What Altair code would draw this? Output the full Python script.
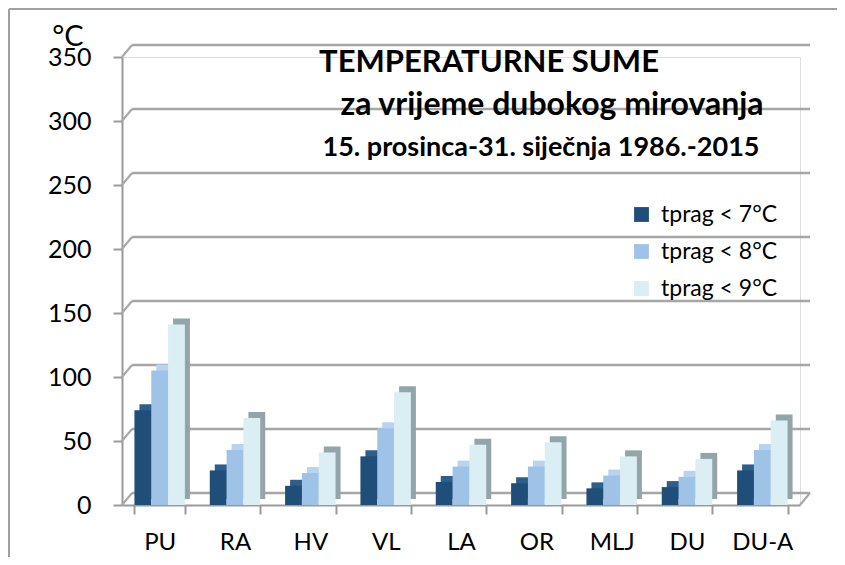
import altair as alt
import pandas as pd

stations = ["PU", "RA", "HV", "VL", "LA", "OR", "MLJ", "DU", "DU-A"]
t7 = [74, 27, 15, 38, 18, 17, 13, 14, 27]
t8 = [105, 43, 25, 60, 30, 30, 23, 22, 43]
t9 = [141, 68, 41, 88, 47, 49, 38, 36, 66]
series = ["tprag < 7°C", "tprag < 8°C", "tprag < 9°C"]
colors = ["#1f4e79", "#9fc3e7", "#dbeef3"]
top_colors = ["#2e5e8c", "#b8d4ef", "#93a5a8"]
yticks = [0, 50, 100, 150, 200, 250, 300, 350]
title_lines = ["TEMPERATURNE SUME", "za vrijeme dubokog mirovanja",
               "15. prosinca-31. siječnja 1986.-2015"]

rows = []
for i, s in enumerate(stations):
    for name, vals in zip(series, [t7, t8, t9]):
        rows.append({"station": s, "serie": name, "value": vals[i]})
df = pd.DataFrame(rows)
grid = pd.DataFrame({"value": yticks})

W, H = 678, 448
DX, DY = 10, -12
FONT = "Lato"
PI = 0.33
BAND = W / 9 * (1 - PI)

xscale = alt.Scale(domain=stations, paddingInner=PI, paddingOuter=PI / 2)
xaxis = alt.Axis(title=None, labelAngle=0, labelFontSize=24,
                 labelColor="black", labelFont=FONT,
                 labelPadding=16, tickSize=9, tickBand="extent",
                 domainColor="#9a9a9a", tickColor="#9a9a9a",
                 domainWidth=2, tickWidth=2)
yscale = alt.Scale(domain=[0, 350], nice=False)
yaxis = alt.Axis(title=None, values=yticks, labelFontSize=25,
                 labelColor="black", labelFont=FONT, labelPadding=22,
                 tickSize=9, grid=False, domainColor="#9a9a9a",
                 tickColor="#9a9a9a", domainWidth=2, tickWidth=2)
yenc = alt.Y("value:Q", scale=yscale, axis=yaxis)
xenc = alt.X("station:N", scale=xscale, axis=xaxis)

base = alt.Chart(grid)
gridlines = base.mark_rule(color="#a6a6a6", strokeWidth=2.5, yOffset=DY).encode(
    x=alt.value(DX), x2=alt.value(W + DX), y=yenc)
connectors = base.mark_rule(color="#a6a6a6", strokeWidth=2, y2Offset=DY).encode(
    x=alt.value(0), x2=alt.value(DX), y=yenc, y2=alt.Y2("value:Q"))
floor_right = base.transform_filter("datum.value == 0").mark_rule(
    color="#a6a6a6", strokeWidth=2, y2Offset=DY).encode(
    x=alt.value(W), x2=alt.value(W + DX), y=yenc, y2=alt.Y2("value:Q"))

shadow = alt.Chart(df).mark_bar(yOffset=-6, y2Offset=-6).encode(
    x=xenc,
    xOffset=alt.XOffset("serie:N", sort=series,
                        scale=alt.Scale(domain=series, paddingInner=0, paddingOuter=0,
                                        range=[5, BAND + 5])),
    y=yenc,
    color=alt.Color("serie:N", sort=series,
                    scale=alt.Scale(domain=series, range=top_colors), legend=None))

bars = alt.Chart(df).mark_bar().encode(
    x=xenc,
    xOffset=alt.XOffset("serie:N", sort=series,
                        scale=alt.Scale(domain=series, paddingInner=0, paddingOuter=0,
                                        range=[0, BAND])),
    y=yenc,
    color=alt.Color("serie:N", sort=series,
                    scale=alt.Scale(domain=series, range=colors),
                    legend=alt.Legend(title=None, orient="none", legendX=508,
                                      legendY=146, symbolType="square",
                                      symbolSize=220, symbolStrokeWidth=0,
                                      labelFontSize=23, labelFont=FONT,
                                      labelColor="black", rowPadding=13,
                                      labelOffset=8)))

tdf = pd.DataFrame({"t": title_lines, "k": [0, 1, 2]})
t1 = alt.Chart(tdf).transform_filter("datum.k == 0").mark_text(
    font=FONT, fontSize=31, fontWeight="bold", color="black").encode(
    text="t:N", x=alt.value(367), y=alt.value(6))
t2 = alt.Chart(tdf).transform_filter("datum.k == 1").mark_text(
    font=FONT, fontSize=32, fontWeight="bold", color="black").encode(
    text="t:N", x=alt.value(430), y=alt.value(48))
t3 = alt.Chart(tdf).transform_filter("datum.k == 2").mark_text(
    font=FONT, fontSize=27, fontWeight="bold", color="black").encode(
    text="t:N", x=alt.value(419), y=alt.value(91))
unit = alt.Chart(pd.DataFrame({"u": ["°C"]})).mark_text(
    font=FONT, fontSize=29, color="black").encode(
    text="u:N", x=alt.value(-54), y=alt.value(-20))

frame_top = alt.Chart(pd.DataFrame({"u": [1]})).mark_rule(color="#a0a0a0", strokeWidth=2).encode(
    x=alt.value(-113), x2=alt.value(W + 40), y=alt.value(-48))
frame_left = alt.Chart(pd.DataFrame({"u": [1]})).mark_rule(color="#a0a0a0", strokeWidth=2).encode(
    x=alt.value(-113), y=alt.value(-48), y2=alt.value(H + 60))

chart = alt.layer(
    frame_top, frame_left, gridlines, connectors, floor_right,
    shadow, bars, t1, t2, t3, unit
).resolve_scale(color="independent", xOffset="independent").properties(
    width=W, height=H,
    autosize=alt.AutoSizeParams(type="none"),
    padding={"left": 114, "top": 49, "right": 37, "bottom": 52},
).configure_view(stroke=None).configure(background="white")

chart.save("out.html", embed_options={"renderer": "svg", "actions": False})
